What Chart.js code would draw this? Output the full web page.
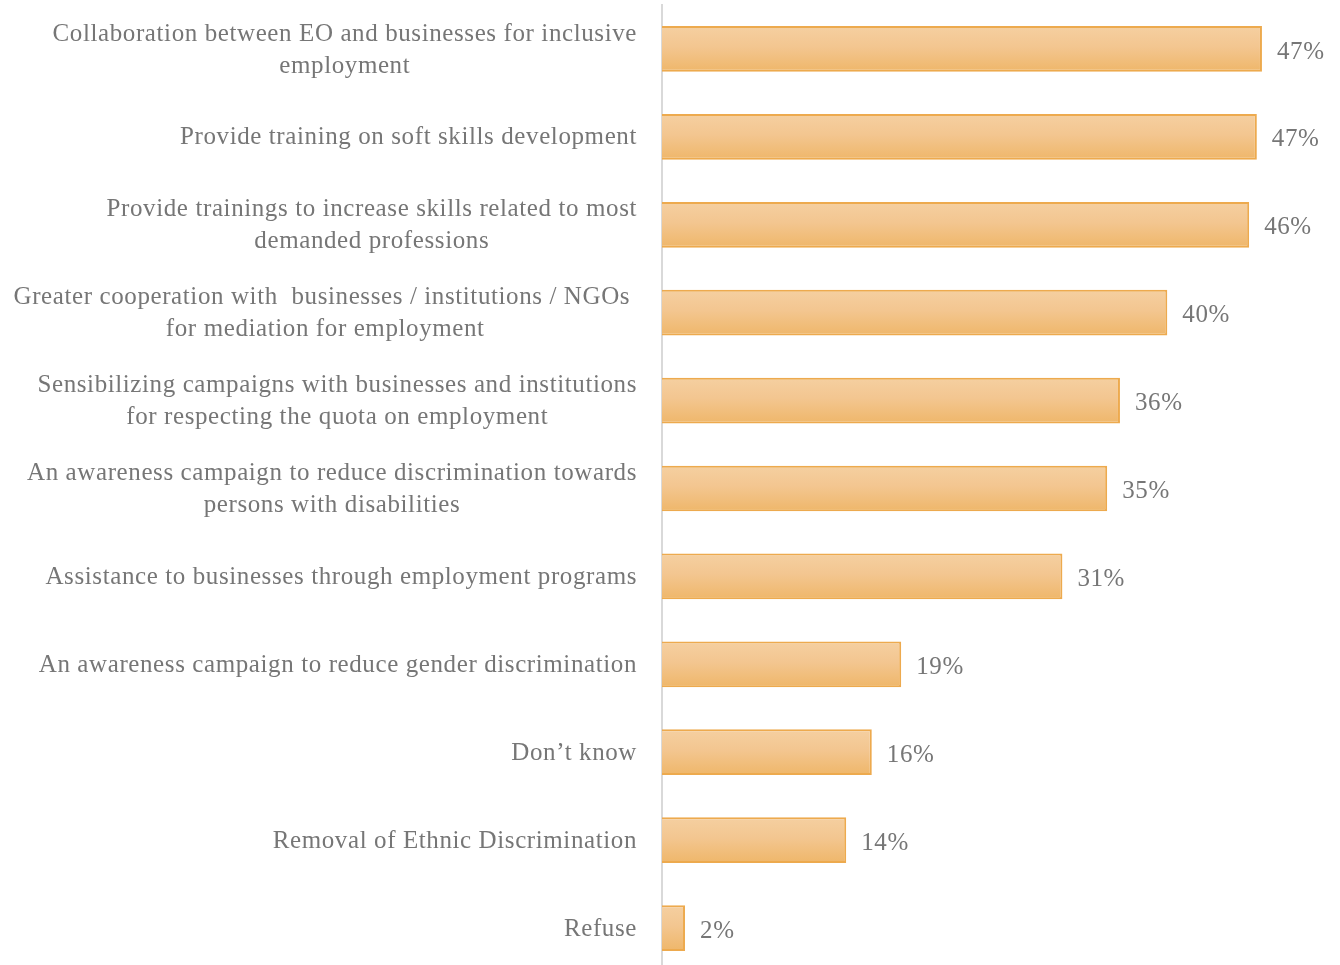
<!DOCTYPE html>
<html>
<head>
<meta charset="utf-8">
<script src="https://cdn.jsdelivr.net/npm/chart.js@4"></script>
<style>
  html, body { margin: 0; padding: 0; background: #fff; overflow: hidden; }
  #wrap { width: 1340px; height: 972px; position: relative; }
</style>
</head>
<body>
<div id="wrap"><canvas id="measures"></canvas></div>
<script>
// Share of respondents naming each measure
const categories = [
    ['Collaboration between EO and businesses for inclusive', 'employment'],
    ['Provide training on soft skills development'],
    ['Provide trainings to increase skills related to most', 'demanded professions'],
    ['Greater cooperation with  businesses / institutions / NGOs ', 'for mediation for employment'],
    ['Sensibilizing campaigns with businesses and institutions', 'for respecting the quota on employment'],
    ['An awareness campaign to reduce discrimination towards', 'persons with disabilities'],
    ['Assistance to businesses through employment programs'],
    ['An awareness campaign to reduce gender discrimination'],
    ['Don\u2019t know'],
    ['Removal of Ethnic Discrimination'],
    ['Refuse']
];
const shares = [46.9, 46.5, 45.9, 39.5, 35.8, 34.8, 31.3, 18.7, 16.4, 14.4, 1.8];

const TEXT_COLOR = '#767676';
const FONT = '25px "Liberation Serif", serif';
const SPACING = '0.6px';
const LABEL_RIGHT = 637;
const LINE_HEIGHT = 32;

// Category text: lines centred on each other, block right-aligned
const categoryLabels = {
    id: 'categoryLabels',
    afterDraw(chart) {
        const ctx = chart.ctx;
        const yScale = chart.scales.y;
        ctx.save();
        ctx.font = FONT;
        ctx.letterSpacing = SPACING;
        ctx.fillStyle = TEXT_COLOR;
        ctx.textAlign = 'center';
        ctx.textBaseline = 'middle';
        categories.forEach((lines, i) => {
            const y = yScale.getPixelForTick(i);
            const blockW = Math.max(...lines.map(l => ctx.measureText(l).width));
            const cx = LABEL_RIGHT - blockW / 2;
            const top = y - (lines.length - 1) * LINE_HEIGHT / 2 + 1;
            lines.forEach((line, j) => ctx.fillText(line, cx, top + j * LINE_HEIGHT));
        });
        ctx.restore();
    }
};

// Percent labels just past the end of each bar
const valueLabels = {
    id: 'valueLabels',
    afterDatasetsDraw(chart) {
        const ctx = chart.ctx;
        const meta = chart.getDatasetMeta(0);
        ctx.save();
        ctx.font = FONT;
        ctx.letterSpacing = SPACING;
        ctx.fillStyle = TEXT_COLOR;
        ctx.textAlign = 'left';
        ctx.textBaseline = 'middle';
        meta.data.forEach((bar, i) => {
            ctx.fillText(Math.round(shares[i]) + '%', bar.x + 15, bar.y + 3);
        });
        ctx.restore();
    }
};

function barGradient(context) {
    const chart = context.chart;
    const yScale = chart.scales.y;
    if (!chart.chartArea || !yScale) return '#F2C285';
    const y = yScale.getPixelForValue(context.dataIndex);
    const half = yScale.height / categories.length / 4;
    const g = chart.ctx.createLinearGradient(0, y - half, 0, y + half);
    g.addColorStop(0, '#F5CFA0');
    g.addColorStop(0.45, '#F3C690');
    g.addColorStop(1, '#EFB76B');
    return g;
}

new Chart(document.getElementById('measures'), {
    type: 'bar',
    data: {
        labels: categories.map(c => c.join(' ')),
        datasets: [{
            data: shares,
            backgroundColor: barGradient,
            borderColor: '#EDAA4E',
            borderWidth: 2,
            borderSkipped: 'left',
            categoryPercentage: 1,
            barPercentage: 0.52
        }]
    },
    options: {
        indexAxis: 'y',
        responsive: true,
        maintainAspectRatio: false,
        animation: false,
        layout: { padding: { top: 5, right: 0, bottom: 0, left: 0 } },
        plugins: {
            legend: { display: false },
            tooltip: { enabled: false }
        },
        scales: {
            x: {
                display: false,
                min: 0,
                max: 53
            },
            y: {
                grid: { display: false, drawTicks: false },
                border: { display: true, color: '#D9D9D9', width: 2 },
                ticks: { display: false },
                afterFit: (scale) => { scale.width = 662; }
            }
        }
    },
    plugins: [categoryLabels, valueLabels]
});
</script>
</body>
</html>
